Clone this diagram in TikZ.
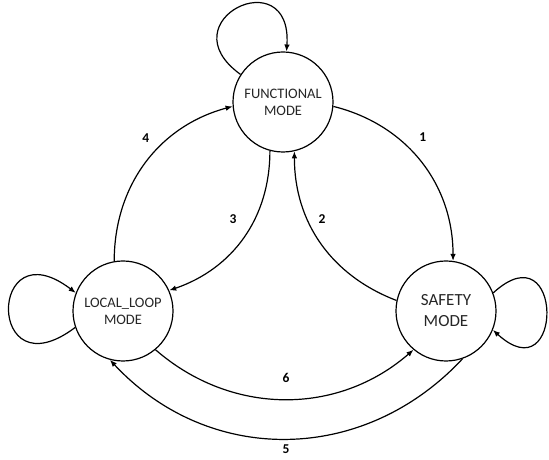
\documentclass[tikz,border=0pt]{standalone}
\usepackage{fontspec}
\setmainfont{Carlito}
\usetikzlibrary{arrows.meta}
\begin{document}
\begin{tikzpicture}[x=1pt,y=1pt,
  state/.style={circle,draw,line width=1.2pt,minimum size=100pt,inner sep=0pt,align=center,text=black!85},
  smallfont/.style={font=\fontsize{14.5}{17}\selectfont},
  bigfont/.style={font=\fontsize{17}{21}\selectfont},
  edgelabel/.style={font=\fontsize{13.5}{16}\selectfont\bfseries,inner sep=0pt},
  trans/.style={line width=1.2pt,-{Latex[length=7pt,width=5.5pt]}}]
\useasboundingbox (0,0) rectangle (549,460);
\node[state,smallfont] (F) at (283,358) {FUNCTIONAL\\MODE};
\node[state,smallfont] (L) at (123,149) {LOCAL\_LOOP\\MODE};
\node[state,bigfont] (S) at (446,149) {SAFETY\\MODE};
% self loops
\draw[trans] (F.147) .. controls +(-75,54) and +(6,92) .. (F.86);
\draw[trans] (L.199) .. controls +(-89,-67) and +(-88,67) .. (L.159);
\draw[trans] (S.21) .. controls +(71,65) and +(71,-65) .. (S.-22);
% transitions
\draw[trans] (F.-5) to[out=-14,in=90] (S.82);
\draw[trans] (S.168) to[out=159,in=-90] (F.-77);
\draw[trans] (F.255) to[out=-90,in=19] (L.24);
\draw[trans] (L.100) to[out=90,in=195] (F.185);
\draw[trans] (L.-50) to[out=-41,in=-139] (S.230);
\draw[trans] (S.-71) to[out=-133,in=-47,looseness=1.05] (L.-105);
% labels
\node[edgelabel] (l1) at (422.7,322.7) {1};
\node[edgelabel] (l2) at (322,241) {2};
\node[edgelabel] (l3) at (233,241) {3};
\node[edgelabel] (l4) at (145.7,322.3) {4};
\node[edgelabel] (l6) at (286,82) {6};
\node[edgelabel] (l5) at (286,11) {5};
\end{tikzpicture}
\end{document}
